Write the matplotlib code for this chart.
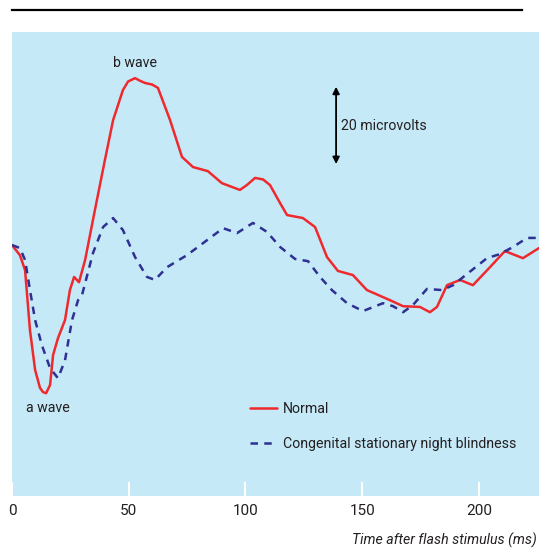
import matplotlib
matplotlib.use("Agg")
import matplotlib.pyplot as plt
from matplotlib.lines import Line2D

plt.rcParams['font.family'] = ['Roboto', 'DejaVu Sans']

# Normal ERG (time ms, amplitude microvolts)
normal_t = [0, 3.4, 5.6, 7.7, 9.9, 12.0, 13.3, 14.6, 16.3, 17.6, 19.7, 22.7, 24.8, 26.6, 28.7,
            31.3, 35.5, 39.8, 43.3, 47.5, 49.7, 52.7, 54.8, 57.0, 60.0, 62.5, 67.7, 72.8, 77.5,
            83.9, 89.9, 97.6, 100.6, 104.1, 107.5, 110.5, 114.8, 117.8, 124.6, 129.8, 134.9,
            139.6, 146.0, 152.0, 161.9, 167.5, 174.7, 179.0, 182.0, 186.3, 191.9, 197.4,
            204.7, 211.1, 218.8, 225.7]
normal_v = [0, -2.7, -6.7, -22.7, -33.3, -38.1, -39.2, -39.5, -37.3, -29.3, -24.8, -20.0,
            -12.0, -8.5, -9.9, -4.0, 9.3, 22.7, 33.3, 41.3, 43.6, 44.5, 43.8, 43.2, 42.8,
            41.9, 33.3, 23.5, 20.8, 19.7, 16.5, 14.7, 16.0, 17.9, 17.5, 16.0, 11.2, 8.0,
            7.2, 4.8, -3.2, -6.9, -8.0, -12.0, -14.7, -16.3, -16.5, -17.9, -16.5, -10.7,
            -9.3, -10.7, -5.9, -1.6, -3.5, -0.8]

# Congenital stationary night blindness ERG
csnb_t = [0, 3.4, 5.6, 7.7, 9.9, 12.8, 16.3, 19.7, 22.7, 25.7, 28.3, 30.0, 34.7, 39.0,
          43.3, 47.5, 52.7, 57.8, 61.2, 66.4, 74.9, 81.8, 90.4, 96.4, 103.2, 109.2, 114.8,
          121.2, 126.8, 131.9, 137.0, 143.5, 150.3, 158.9, 163.2, 167.5, 171.7, 177.7,
          184.2, 188.9, 195.3, 203.4, 209.0, 214.6, 220.6, 225.7]
csnb_v = [0, -0.8, -4.0, -12.0, -20.0, -26.7, -32.8, -35.5, -30.7, -20.0, -14.7, -13.3,
          -2.1, 4.8, 7.2, 4.0, -3.2, -8.5, -9.3, -5.9, -2.7, 0.5, 4.5, 3.2, 5.9, 3.5, -0.5,
          -3.7, -4.3, -8.5, -12.0, -15.5, -17.6, -15.5, -16.3, -17.9, -16.0, -11.7, -12.0,
          -10.7, -7.5, -3.5, -2.4, -0.5, 1.9, 1.9]

x_ticks = [0, 50, 100, 150, 200]
series_labels = ["Normal", "Congenital stationary night blindness"]

fig = plt.figure(figsize=(5.4, 5.5), dpi=100)
ax = fig.add_axes([12/540, 1 - 496/550, 527/540, 464/550])
ax.set_facecolor('#C6E9F8')
for s in ax.spines.values():
    s.set_visible(False)

red = '#EE2A2E'
blue = '#2E3192'
txt = '#231F20'
fs = 10.2
ax.plot(normal_t, normal_v, color=red, lw=1.8, label=series_labels[0],
        solid_joinstyle='round', solid_capstyle='round')
ax.plot(csnb_t, csnb_v, color=blue, lw=1.8, ls=(0, (3, 2.5)), label=series_labels[1])

ax.set_xlim(0, 225.7)
ax.set_ylim(-66.9, 56.8)
ax.set_xticks(x_ticks)
ax.set_yticks([])
ax.tick_params(axis='x', direction='in', color='white', length=10, width=1.5,
               labelsize=11, pad=6, labelcolor=txt)

ax.text(52.7, 48.5, 'b wave', ha='center', va='center', fontsize=fs, color=txt)
ax.text(15.4, -43.5, 'a wave', ha='center', va='center', fontsize=fs, color=txt)
ax.annotate('', xy=(138.8, 42.2), xytext=(138.8, 21.6),
            arrowprops=dict(arrowstyle='<|-|>', color='black', lw=1.3,
                            mutation_scale=10, shrinkA=0, shrinkB=0))
ax.text(140.8, 31.7, '20 microvolts', ha='left', va='center', fontsize=fs, color=txt)

leg = ax.legend(loc='upper left', bbox_to_anchor=(0.441, 0.215), frameon=False,
                fontsize=fs, handlelength=1.9, handletextpad=0.4, labelspacing=1.5,
                borderaxespad=0)
for t in leg.get_texts():
    t.set_color(txt)

fig.text(537/540, 1 - 540/550, 'Time after flash stimulus (ms)', ha='right', va='center',
         fontsize=fs, style='italic', color=txt)

fig.add_artist(Line2D([12/540, 522/540], [1 - 10/550, 1 - 10/550], color='black', lw=1.6))

fig.savefig('out.png', dpi=100)
